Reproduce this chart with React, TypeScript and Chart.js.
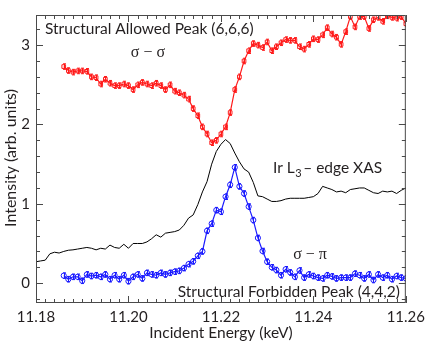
import React, { useEffect, useRef } from 'react';
import { Chart, registerables } from 'chart.js';

Chart.register(...registerables);

// Incident energies (keV) for the resonant scattering scans
const energies = [
  11.186, 11.187, 11.188, 11.189, 11.190, 11.191, 11.192, 11.193, 11.194, 11.195,
  11.196, 11.197, 11.198, 11.199, 11.200, 11.201, 11.202, 11.203, 11.204, 11.205,
  11.206, 11.207, 11.208, 11.209, 11.210, 11.211, 11.212, 11.213, 11.214, 11.215,
  11.216, 11.217, 11.218, 11.219, 11.220, 11.221, 11.222, 11.223, 11.224, 11.225,
  11.226, 11.227, 11.228, 11.229, 11.230, 11.231, 11.232, 11.233, 11.234, 11.235,
  11.236, 11.237, 11.238, 11.239, 11.240, 11.241, 11.242, 11.243, 11.244, 11.245,
  11.246, 11.247, 11.248, 11.249, 11.250, 11.251, 11.252, 11.253, 11.254, 11.255,
  11.256, 11.257, 11.258, 11.259, 11.260,
];

// sigma-sigma, structural allowed peak (6,6,6)
const sigmaSigma = [
  2.73, 2.68, 2.66, 2.675, 2.675, 2.67, 2.60, 2.59, 2.51, 2.57,
  2.52, 2.49, 2.49, 2.51, 2.49, 2.44, 2.50, 2.53, 2.51, 2.49,
  2.52, 2.49, 2.44, 2.50, 2.42, 2.40, 2.37, 2.32, 2.20, 2.11,
  1.97, 1.88, 1.77, 1.80, 1.88, 1.97, 2.15, 2.44, 2.60, 2.80,
  2.93, 3.02, 3.00, 2.97, 3.04, 2.93, 2.98, 3.03, 3.07, 3.06,
  3.06, 2.98, 2.95, 3.01, 3.08, 3.07, 3.13, 3.22, 3.14, 3.10,
  3.01, 3.17, 3.36, 3.23, 3.36, 3.36, 3.21, 3.32, 3.35, 3.30,
  3.37, 3.35, 3.34, 3.36, 3.27,
];

// sigma-pi, structural forbidden peak (4,4,2)
const sigmaPi = [
  0.095, 0.05, 0.08, 0.08, 0.03, 0.11, 0.09, 0.10, 0.08, 0.11,
  0.05, 0.10, 0.05, 0.10, 0.025, 0.08, 0.11, 0.06, 0.13, 0.11,
  0.10, 0.13, 0.11, 0.13, 0.145, 0.155, 0.19, 0.24, 0.275, 0.345,
  0.40, 0.66, 0.75, 0.92, 0.90, 1.09, 1.24, 1.46, 1.22, 1.13,
  0.965, 0.795, 0.57, 0.405, 0.27, 0.20, 0.165, 0.10, 0.175, 0.135,
  0.08, 0.16, 0.07, 0.11, 0.09, 0.07, 0.06, 0.10, 0.085, 0.06,
  0.07, 0.07, 0.07, 0.12, 0.10, 0.06, 0.11, 0.04, 0.11, 0.07,
  0.10, 0.05, 0.09, 0.07, 0.06,
];

// Ir L3-edge XAS
const xasEnergies = [
  11.180, 11.181, 11.182, 11.183, 11.184, 11.185, 11.186, 11.187, 11.188, 11.189,
  11.190, 11.191, 11.192, 11.193, 11.194, 11.195, 11.196, 11.197, 11.198, 11.199,
  11.200, 11.201, 11.202, 11.203, 11.204, 11.205, 11.206, 11.207, 11.208, 11.209,
  11.210, 11.211, 11.212, 11.213, 11.214, 11.215, 11.216, 11.217, 11.218, 11.219,
  11.220, 11.221, 11.222, 11.223, 11.224, 11.225, 11.226, 11.227, 11.228, 11.229,
  11.230, 11.231, 11.232, 11.233, 11.234, 11.235, 11.236, 11.237, 11.238, 11.239,
  11.240, 11.241, 11.242, 11.243, 11.244, 11.245, 11.246, 11.247, 11.248, 11.249,
  11.250, 11.251, 11.252, 11.253, 11.254, 11.255, 11.256, 11.257, 11.258, 11.259,
  11.260,
];
const xasValues = [
  0.27, 0.28, 0.29, 0.37, 0.39, 0.38, 0.40, 0.415, 0.42, 0.43,
  0.44, 0.45, 0.44, 0.42, 0.44, 0.43, 0.48, 0.45, 0.44, 0.49,
  0.44, 0.50, 0.50, 0.50, 0.52, 0.56, 0.61, 0.58, 0.63, 0.64,
  0.65, 0.67, 0.73, 0.82, 0.86, 0.99, 1.15, 1.28, 1.50, 1.66,
  1.75, 1.81, 1.76, 1.64, 1.53, 1.44, 1.40, 1.27, 1.10, 1.09,
  1.06, 1.03, 1.03, 1.04, 1.06, 1.07, 1.07, 1.07, 1.07, 1.08,
  1.09, 1.13, 1.22, 1.20, 1.18, 1.15, 1.16, 1.14, 1.18, 1.19,
  1.20, 1.20, 1.17, 1.14, 1.13, 1.16, 1.15, 1.16, 1.13, 1.17,
  1.20,
];

const errSigmaSigma = 0.035;
const errSigmaPi = 0.035;

const xTicks = [11.18, 11.2, 11.22, 11.24, 11.26];
const yTicks = [0, 1, 2, 3];

const RED = '#ff1a1a';
const BLUE = '#1a1aff';
const FRAME = '#4a4a4a';
const TEXT = '#231f20';
const SANS = 'Lato, "Open Sans", sans-serif';
const SERIF = '"Liberation Serif", "DejaVu Serif", serif';

const decorPlugin = {
  id: 'decor',
  afterDatasetsDraw(chart: any) {
    const ctx = chart.ctx;
    const xs = chart.scales.x;
    const ys = chart.scales.y;
    const drawErr = (vals: number[], err: number, color: string) => {
      ctx.save();
      ctx.strokeStyle = color;
      ctx.lineWidth = 1;
      vals.forEach((v, i) => {
        const px = Math.round(xs.getPixelForValue(energies[i])) + 0.5;
        const y1 = ys.getPixelForValue(v + err);
        const y2 = ys.getPixelForValue(v - err);
        ctx.beginPath();
        ctx.moveTo(px, y1);
        ctx.lineTo(px, y2);
        ctx.moveTo(px - 1.5, y1);
        ctx.lineTo(px + 1.5, y1);
        ctx.moveTo(px - 1.5, y2);
        ctx.lineTo(px + 1.5, y2);
        ctx.stroke();
      });
      ctx.restore();
    };
    const { left, right, top, bottom } = chart.chartArea;
    ctx.save();
    ctx.beginPath();
    ctx.rect(left, top, right - left, bottom - top);
    ctx.clip();
    drawErr(sigmaSigma, errSigmaSigma, RED);
    drawErr(sigmaPi, errSigmaPi, BLUE);
    ctx.restore();
  },
  afterDraw(chart: any) {
    const ctx = chart.ctx;
    const xs = chart.scales.x;
    const ys = chart.scales.y;
    const { left, right, top, bottom } = chart.chartArea;
    ctx.save();
    ctx.strokeStyle = FRAME;
    ctx.lineWidth = 1;
    ctx.strokeRect(left + 0.5, top + 0.5, right - left - 1, bottom - top - 1);
    ctx.beginPath();
    for (let k = 0; k <= 40; k++) {
      const v = 11.18 + k * 0.002;
      const px = Math.round(xs.getPixelForValue(v)) + 0.5;
      const len = k % 10 === 0 ? 7 : 4;
      ctx.moveTo(px, bottom);
      ctx.lineTo(px, bottom - len);
      ctx.moveTo(px, top);
      ctx.lineTo(px, top + len);
    }
    for (let k = -1; k <= 16; k++) {
      const v = k * 0.2;
      const py = Math.round(ys.getPixelForValue(v)) + 0.5;
      if (py < top || py > bottom) continue;
      const len = k % 5 === 0 ? 7 : 4;
      ctx.moveTo(left, py);
      ctx.lineTo(left + len, py);
      ctx.moveTo(right, py);
      ctx.lineTo(right - len, py);
    }
    ctx.stroke();

    ctx.fillStyle = TEXT;
    ctx.font = `15.5px ${SANS}`;
    ctx.textBaseline = 'alphabetic';
    ctx.textAlign = 'left';
    ctx.fillText('Structural Allowed Peak (6,6,6)', 45, 34);
    ctx.textAlign = 'right';
    ctx.fillText('Structural Forbidden Peak (4,4,2)', 400, 297);

    // Ir L3 - edge XAS
    ctx.textAlign = 'left';
    let x = 273;
    const base = 173;
    ctx.fillText('Ir L', x, base);
    x += ctx.measureText('Ir L').width;
    ctx.font = `11px ${SANS}`;
    ctx.fillText('3', x + 0.5, base + 4);
    x += ctx.measureText('3').width + 1;
    ctx.font = `15.5px ${SANS}`;
    ctx.fillText('\u2013 edge XAS', x + 1, base);

    ctx.font = `16px ${SERIF}`;
    ctx.textAlign = 'center';
    ctx.fillText('\u03c3 \u2212 \u03c3', 148, 57);
    ctx.fillText('\u03c3 \u2212 \u03c0', 310, 259);

    ctx.font = `15.5px ${SANS}`;
    ctx.fillText('Incident Energy (keV)', 221, 338);
    ctx.save();
    ctx.translate(16, 158);
    ctx.rotate(-Math.PI / 2);
    ctx.font = `16px ${SANS}`;
    ctx.fillText('Intensity (arb. units)', 0, 0);
    ctx.restore();
    ctx.restore();
  },
};

export default function App() {
  const canvasRef = useRef<HTMLCanvasElement | null>(null);

  useEffect(() => {
    const canvas = canvasRef.current;
    if (!canvas) return;
    const chart = new Chart(canvas, {
      type: 'line',
      data: {
        datasets: [
          {
            label: 'Ir L3-edge XAS',
            data: xasEnergies.map((e, i) => ({ x: e, y: xasValues[i] })),
            borderColor: '#000000',
            borderWidth: 1,
            pointRadius: 0,
            tension: 0,
          },
          {
            label: 'sigma-sigma',
            data: energies.map((e, i) => ({ x: e, y: sigmaSigma[i] })),
            borderColor: RED,
            borderWidth: 1.2,
            pointStyle: 'rect',
            pointRadius: 2.6,
            pointBorderWidth: 1,
            pointBorderColor: RED,
            pointBackgroundColor: 'rgba(255,255,255,0)',
            tension: 0,
          },
          {
            label: 'sigma-pi',
            data: energies.map((e, i) => ({ x: e, y: sigmaPi[i] })),
            borderColor: BLUE,
            borderWidth: 1.2,
            pointStyle: 'circle',
            pointRadius: 2.6,
            pointBorderWidth: 1,
            pointBorderColor: BLUE,
            pointBackgroundColor: 'rgba(255,255,255,0)',
            tension: 0,
          },
        ],
      },
      options: {
        animation: false,
        responsive: false,
        devicePixelRatio: 1,
        layout: { padding: { top: 9, right: 22, left: 0, bottom: 0 } },
        plugins: { legend: { display: false }, tooltip: { enabled: false } },
        scales: {
          x: {
            type: 'linear',
            min: 11.18,
            max: 11.26,
            afterBuildTicks: (s: any) => {
              s.ticks = xTicks.map((v) => ({ value: v }));
            },
            afterFit: (s: any) => {
              s.height = 43;
            },
            grid: { display: false, drawTicks: false },
            border: { display: false },
            ticks: {
              autoSkip: false,
              maxRotation: 0,
              padding: 5,
              color: TEXT,
              font: { family: SANS, size: 15 },
              callback: (v: any) => Number(v).toFixed(2),
            },
          },
          y: {
            type: 'linear',
            min: -0.25,
            max: 3.38,
            afterBuildTicks: (s: any) => {
              s.ticks = yTicks.map((v) => ({ value: v }));
            },
            afterFit: (s: any) => {
              s.width = 36;
            },
            grid: { display: false, drawTicks: false },
            border: { display: false },
            ticks: {
              padding: 6,
              color: TEXT,
              font: { family: SANS, size: 15 },
              callback: (v: any) => String(v),
            },
          },
        },
      },
      plugins: [decorPlugin],
    });
    return () => chart.destroy();
  }, []);

  return (
    <div style={{ position: 'fixed', left: 0, top: 0, width: 430, height: 346, background: '#fff' }}>
      <canvas ref={canvasRef} width={430} height={346} />
    </div>
  );
}
